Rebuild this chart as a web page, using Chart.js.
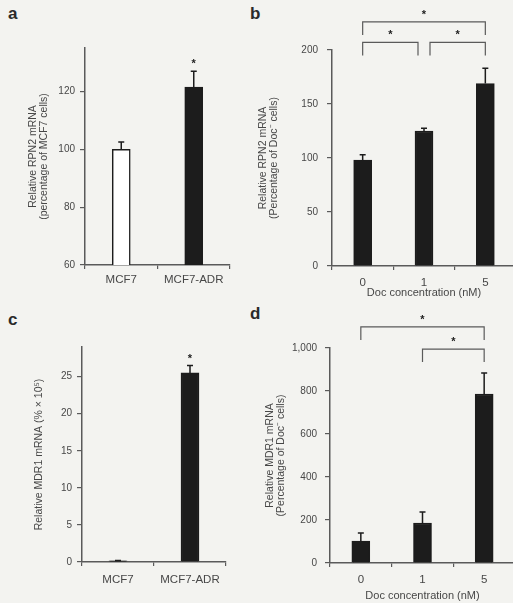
<!DOCTYPE html>
<html>
<head>
<meta charset="utf-8">
<script src="https://cdn.jsdelivr.net/npm/chart.js@4"></script>
<style>
  body { margin: 0; background: #f3f3f0; width: 513px; height: 603px; overflow: hidden; position: relative; font-family: "Liberation Sans", Arial, sans-serif; }
  canvas { position: absolute; }
  .letter { position: absolute; font-weight: bold; font-size: 17px; color: #2a2a2a; }
</style>
</head>
<body>
<div class="letter" style="left:8px;top:4px">a</div>
<div class="letter" style="left:250px;top:4px">b</div>
<div class="letter" style="left:8px;top:310px">c</div>
<div class="letter" style="left:250px;top:304px">d</div>
<canvas id="chartA" style="left:0;top:0" width="250" height="300"></canvas>
<canvas id="chartB" style="left:250px;top:0" width="270" height="300"></canvas>
<canvas id="chartC" style="left:0;top:300px" width="250" height="303"></canvas>
<canvas id="chartD" style="left:250px;top:300px" width="270" height="303"></canvas>
<script>
// data
const cellLines = ["MCF7", "MCF7-ADR"];
const docLabels = ["0", "1", "5"];

const rpn2Cells = [100, 121.5];
const rpn2CellsErr = [102.5, 127];
const rpn2CellsSig = ["", "*"];

const rpn2Doc = [98, 125, 169];
const rpn2DocErr = [103, 127.5, 183];
const rpn2DocBrackets = [[0, 2, 226], [0, 1, 207], [1, 2, 207]];

const mdr1Cells = [0.15, 25.5];
const mdr1CellsErr = [0.2, 26.5];
const mdr1CellsSig = ["", "*"];

const mdr1Doc = [102, 186, 786];
const mdr1DocErr = [140, 237, 884];
const mdr1DocBrackets = [[0, 2, 1098], [1, 2, 995]];

const FONT = "'Liberation Sans', Arial, sans-serif";
const AXIS = "#5a5a5a";
const INK = "#1c1c1c";
const TEXT = "#474747";

// error bars, stars and brackets drawn on top of the bars
const extrasPlugin = {
  id: "extras",
  afterDatasetsDraw(chart, args, opts) {
    const { ctx } = chart;
    const y = chart.scales.y;
    const meta = chart.getDatasetMeta(0);
    ctx.save();
    ctx.strokeStyle = INK;
    ctx.fillStyle = INK;
    ctx.lineWidth = 1.5;
    opts.err.forEach((v, i) => {
      const bar = meta.data[i];
      const top = y.getPixelForValue(v);
      ctx.beginPath();
      ctx.moveTo(bar.x, bar.y);
      ctx.lineTo(bar.x, top);
      ctx.moveTo(bar.x - 3, top);
      ctx.lineTo(bar.x + 3, top);
      ctx.stroke();
      if (opts.sig && opts.sig[i]) {
        ctx.font = "bold 11px " + FONT;
        ctx.textAlign = "center";
        ctx.textBaseline = "middle";
        ctx.fillText(opts.sig[i], bar.x, top - 7);
      }
    });
    const brackets = opts.brackets || [];
    brackets.forEach(([from, to, level]) => {
      // pull the end in a little where two brackets meet on one bar
      const shared = (idx) =>
        brackets.some((b) => b[2] === level && (b[0] === idx || b[1] === idx) && !(b[0] === from && b[1] === to));
      const x1 = meta.data[from].x + (shared(from) ? 6 : 0);
      const x2 = meta.data[to].x - (shared(to) ? 6 : 0);
      const yy = y.getPixelForValue(level);
      ctx.lineWidth = 1.2;
      ctx.strokeStyle = AXIS;
      ctx.beginPath();
      ctx.moveTo(x1, yy + 13);
      ctx.lineTo(x1, yy);
      ctx.lineTo(x2, yy);
      ctx.lineTo(x2, yy + 13);
      ctx.stroke();
      ctx.font = "bold 11px " + FONT;
      ctx.textAlign = "center";
      ctx.textBaseline = "middle";
      ctx.fillText("*", (x1 + x2) / 2, yy - 7);
    });
    ctx.restore();
  },
};

const makeChart = (id, cfg) => {
  return new Chart(document.getElementById(id), {
    type: "bar",
    data: {
      labels: cfg.labels,
      datasets: [
        {
          data: cfg.values,
          backgroundColor: cfg.fill,
          borderColor: INK,
          borderWidth: 1.5,
          borderSkipped: "bottom",
          barThickness: 18,
        },
      ],
    },
    options: {
      responsive: false,
      animation: false,
      layout: { padding: { top: cfg.top, right: cfg.right, left: 0, bottom: 0 } },
      plugins: {
        legend: { display: false },
        tooltip: { enabled: false },
        extras: { err: cfg.err, sig: cfg.sig, brackets: cfg.brackets },
      },
      scales: {
        x: {
          afterFit: (scale) => { scale.height = cfg.xHeight; },
          grid: { drawOnChartArea: false, tickLength: 4, color: AXIS, lineWidth: 1.2 },
          border: { color: AXIS, width: 1.5 },
          ticks: { color: TEXT, padding: cfg.xPad, font: { family: FONT, size: 11.5 } },
          title: {
            display: !!cfg.xTitle,
            text: cfg.xTitle,
            color: TEXT,
            font: { family: FONT, size: 11 },
            padding: 0,
          },
        },
        y: {
          min: cfg.min,
          max: cfg.max,
          afterFit: (scale) => { scale.width = cfg.yWidth; },
          grid: { drawOnChartArea: false, tickLength: 5, color: AXIS, lineWidth: 1.2 },
          border: { color: AXIS, width: 1.5 },
          ticks: {
            stepSize: cfg.step,
            includeBounds: false,
            color: TEXT,
            padding: cfg.yPad,
            font: { family: FONT, size: 10 },
            callback: (v) => v.toLocaleString("en-US"),
          },
          title: {
            display: true,
            text: cfg.yTitle,
            color: TEXT,
            font: { family: FONT, size: 10.5, lineHeight: 1.1 },
            padding: { top: cfg.titlePad, bottom: 0 },
          },
        },
      },
    },
    plugins: [extrasPlugin],
  });
};

makeChart("chartA", {
  labels: cellLines,
  values: rpn2Cells,
  err: rpn2CellsErr,
  sig: rpn2CellsSig,
  fill: ["#ffffff", INK],
  min: 60, max: 135, step: 20,
  top: 48, right: 20, yWidth: 85, xHeight: 35,
  yPad: 5, xPad: 4, titlePad: 27,
  yTitle: ["Relative RPN2 mRNA", "(percentage of MCF7 cells)"],
});

makeChart("chartB", {
  labels: docLabels,
  values: rpn2Doc,
  err: rpn2DocErr,
  brackets: rpn2DocBrackets,
  fill: INK,
  min: 0, max: 200, step: 50,
  top: 50, right: 4, yWidth: 82, xHeight: 34,
  yPad: 9, xPad: 6, titlePad: 7,
  yTitle: ["Relative RPN2 mRNA", "(Percentage of Doc\u207B cells)"],
  xTitle: "Doc concentration (nM)",
});

makeChart("chartC", {
  labels: cellLines,
  values: mdr1Cells,
  err: mdr1CellsErr,
  sig: mdr1CellsSig,
  fill: INK,
  min: 0, max: 29, step: 5,
  top: 47, right: 24, yWidth: 82, xHeight: 41,
  yPad: 5, xPad: 7, titlePad: 33,
  yTitle: "Relative MDR1 mRNA (% \u00D7 10\u2075)",
});

makeChart("chartD", {
  labels: docLabels,
  values: mdr1Doc,
  err: mdr1DocErr,
  brackets: mdr1DocBrackets,
  fill: INK,
  min: 0, max: 1000, step: 200,
  top: 48, right: 5, yWidth: 80, xHeight: 40,
  yPad: 8, xPad: 6, titlePad: 14,
  yTitle: ["Relative MDR1 mRNA", "(Percentage of Doc\u207B cells)"],
  xTitle: "Doc concentration (nM)",
});
</script>
</body>
</html>
